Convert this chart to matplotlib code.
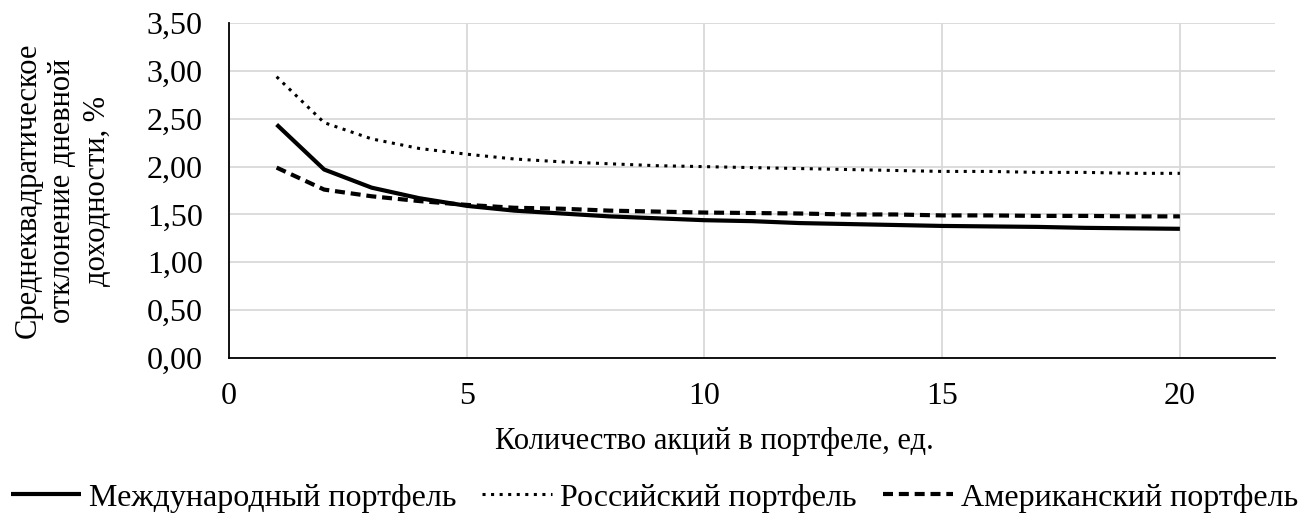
import matplotlib
matplotlib.use("Agg")
import matplotlib.pyplot as plt
from matplotlib.ticker import FuncFormatter, MultipleLocator

plt.rcParams['font.family'] = ['Liberation Serif', 'DejaVu Serif']

x = list(range(1, 21))
intl = [2.44, 1.97, 1.78, 1.67, 1.59, 1.54, 1.51, 1.48, 1.46, 1.44,
        1.43, 1.41, 1.40, 1.39, 1.38, 1.375, 1.37, 1.36, 1.355, 1.35]
rus = [2.94, 2.46, 2.29, 2.19, 2.13, 2.08, 2.05, 2.03, 2.01, 2.00,
       1.99, 1.98, 1.97, 1.96, 1.95, 1.95, 1.94, 1.94, 1.93, 1.93]
usa = [1.99, 1.76, 1.69, 1.64, 1.60, 1.57, 1.56, 1.54, 1.53, 1.52,
       1.515, 1.51, 1.50, 1.50, 1.49, 1.49, 1.485, 1.485, 1.48, 1.48]

labels = ["Международный портфель", "Российский портфель", "Американский портфель"]
xlabel = "Количество акций в портфеле, ед."
ylabel = "Среднеквадратическое\nотклонение дневной\nдоходности, %"

FS = 22
FS_T = 23

fig = plt.figure(figsize=(13.09, 5.15), dpi=100)
ax = fig.add_axes([0.175, 0.305, 0.799, 0.65])

ax.plot(x, intl, color='black', lw=3.0, ls='-', label=labels[0], solid_capstyle='butt')
ax.plot(x, rus, color='black', lw=2.2, ls=(0, (1, 1.8)), label=labels[1])
ax.plot(x, usa, color='black', lw=3.0, ls=(0, (2.4, 1.4)), label=labels[2])

ax.set_xlim(0, 22)
ax.set_ylim(0, 3.5)
ax.xaxis.set_major_locator(MultipleLocator(5))
ax.yaxis.set_major_locator(MultipleLocator(0.5))
ax.yaxis.set_major_formatter(FuncFormatter(lambda v, p: f"{v:.2f}".replace('.', ',')))
ax.grid(True, color='#d9d9d9', lw=1.3)
ax.set_axisbelow(True)
for s in ['top', 'right']:
    ax.spines[s].set_visible(False)
for s in ['left', 'bottom']:
    ax.spines[s].set_color('black')
    ax.spines[s].set_linewidth(1.3)
ax.tick_params(length=0, labelsize=FS_T, colors='black')
ax.tick_params(axis='x', pad=17)
ax.tick_params(axis='y', pad=19)

ax.set_xlabel(xlabel, fontsize=FS)
ax.xaxis.set_label_coords(0.464, -0.205)
ax.set_ylabel(ylabel, fontsize=FS, linespacing=1.25)
ax.yaxis.set_label_coords(-0.112, 0.5)

fig.legend(loc='lower center', bbox_to_anchor=(0.5, -0.051), ncol=3, frameon=False,
           fontsize=FS_T, handlelength=2.2, handletextpad=0.25, columnspacing=0.8)

fig.savefig("out.png", dpi=100)
